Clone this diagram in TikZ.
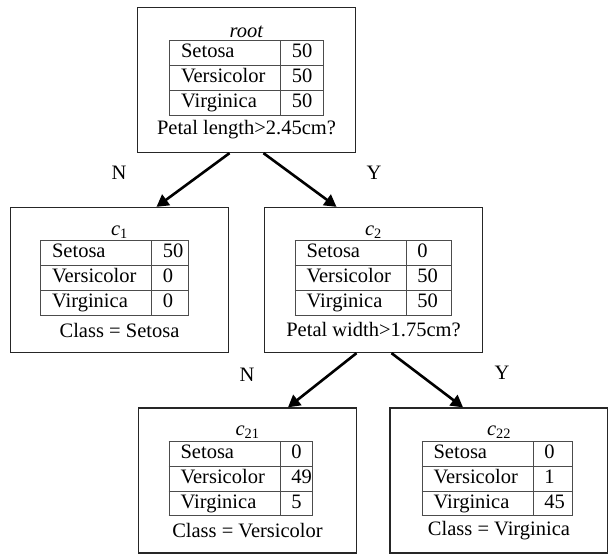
\documentclass[tikz,border=0pt]{standalone}
\usepackage{fontspec}
\setmainfont{Liberation Serif}
\usepackage{colortbl}
\usetikzlibrary{arrows.meta}
\tikzset{
  box/.style={draw=black!85, line width=1.3pt, minimum width=218pt, minimum height=145pt},
  counts/.style={inner sep=0pt, yshift=2pt},
  title/.style={yshift=48pt},
  ask/.style={yshift=-50pt},
  branch/.style={line width=2.6pt, -{Triangle[length=12pt,width=13pt]}},
}
\setlength\tabcolsep{11pt}
\setlength\arrayrulewidth{0.9pt}
\arrayrulecolor{black!70}
\begin{document}
\begin{tikzpicture}[x=1pt, y=-1pt, font=\fontsize{20.5}{24}\selectfont]
  \useasboundingbox (0,0) rectangle (608,555);
  % root
  \node[box] (root) at (246.5,80) {};
  \node[title] (rootname) at (root) {\textit{root}};
  \node[counts] (roottab) at (root) {\begin{tabular}{|p{88pt}|p{20pt}|}\hline
    Setosa & 50\\\hline Versicolor & 50\\\hline Virginica & 50\\\hline\end{tabular}};
  \node[ask] (rootask) at (root) {Petal length>2.45cm?};
  % c1
  \node[box] (c1) at (119.5,280) {};
  \node[title] (c1name) at (c1) {\textit{c}\textsubscript{1}};
  \node[counts, xshift=-5pt] (c1tab) at (c1) {\begin{tabular}{|p{88pt}|p{14pt}|}\hline
    Setosa & 50\\\hline Versicolor & 0\\\hline Virginica & 0\\\hline\end{tabular}};
  \node[ask] (c1ask) at (c1) {Class = Setosa};
  % c2
  \node[box] (c2) at (373.5,280) {};
  \node[title] (c2name) at (c2) {\textit{c}\textsubscript{2}};
  \node[counts] (c2tab) at (c2) {\begin{tabular}{|p{88pt}|p{23pt}|}\hline
    Setosa & 0\\\hline Versicolor & 50\\\hline Virginica & 50\\\hline\end{tabular}};
  \node[ask] (c2ask) at (c2) {Petal width>1.75cm?};
  % c21
  \node[box] (c21) at (247.5,480.5) {};
  \node[title] (c21name) at (c21) {\textit{c}\textsubscript{21}};
  \node[counts, xshift=-6.5pt] (c21tab) at (c21) {\begin{tabular}{|p{88pt}|p{10pt}|}\hline
    Setosa & 0\\\hline Versicolor & 49\\\hline Virginica & 5\\\hline\end{tabular}};
  \node[ask] (c21ask) at (c21) {Class = Versicolor};
  % c22
  \node[box] (c22) at (499,480.5) {};
  \node[title] (c22name) at (c22) {\textit{c}\textsubscript{22}};
  \node[counts, xshift=-1.5pt] (c22tab) at (c22) {\begin{tabular}{|p{88pt}|p{17pt}|}\hline
    Setosa & 0\\\hline Versicolor & 1\\\hline Virginica & 45\\\hline\end{tabular}};
  \node[ask] (c22ask) at (c22) {Class = Virginica};
  % branch labels
  \node (n1) at (119,173) {N};
  \node (y1) at (374,173) {Y};
  \node (n2) at (247,375) {N};
  \node (y2) at (502,373) {Y};
  % branches
  \draw[branch] ([xshift=-17pt]root.south) -- ([xshift=37pt]c1.north);
  \draw[branch] ([xshift=17pt]root.south) -- ([xshift=-37pt]c2.north);
  \draw[branch] ([xshift=-17pt]c2.south) -- ([xshift=40.5pt]c21.north);
  \draw[branch] ([xshift=18pt]c2.south) -- ([xshift=-36pt]c22.north);
\end{tikzpicture}
\end{document}
